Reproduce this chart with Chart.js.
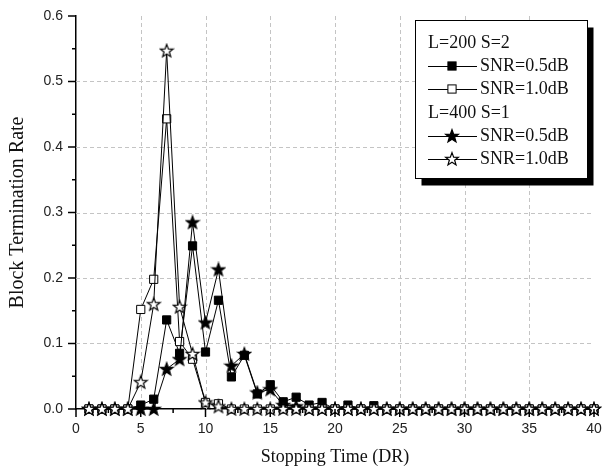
<!DOCTYPE html>
<html>
<head>
<meta charset="utf-8">
<script src="https://cdn.jsdelivr.net/npm/chart.js@4/dist/chart.umd.min.js"></script>
<style>
  html, body { margin: 0; padding: 0; background: #fff; }
  #wrap { width: 602px; height: 472px; }
</style>
</head>
<body>
<div id="wrap"><canvas id="c" width="602" height="472"></canvas></div>
<script>
// Stopping time (in decoding rounds)
const stoppingTimes = [1, 2, 3, 4, 5, 6, 7, 8, 9, 10,
  11, 12, 13, 14, 15, 16, 17, 18, 19, 20,
  21, 22, 23, 24, 25, 26, 27, 28, 29, 30,
  31, 32, 33, 34, 35, 36, 37, 38, 39, 40];

// L=200 S=2, SNR=0.5dB
const l200snr05 = [0, 0, 0, 0, 0.006, 0.015, 0.136, 0.085, 0.249, 0.087,
  0.166, 0.049, 0.082, 0.023, 0.037, 0.011, 0.018, 0.006, 0.010, 0,
  0.006, 0, 0.005, 0, 0, 0, 0, 0, 0, 0,
  0, 0, 0, 0, 0, 0, 0, 0, 0, 0];

// L=200 S=2, SNR=1.0dB
const l200snr10 = [0, 0, 0, 0, 0.152, 0.198, 0.443, 0.103, 0.076, 0.010,
  0.008, 0, 0, 0, 0, 0, 0, 0, 0, 0,
  0, 0, 0, 0, 0, 0, 0, 0, 0, 0,
  0, 0, 0, 0, 0, 0, 0, 0, 0, 0];

// L=400 S=1, SNR=0.5dB
const l400snr05 = [0, 0, 0, 0, 0, 0, 0.061, 0.076, 0.285, 0.132,
  0.213, 0.066, 0.084, 0.025, 0.030, 0.006, 0.004, 0, 0, 0,
  0, 0, 0, 0, 0, 0, 0, 0, 0, 0,
  0, 0, 0, 0, 0, 0, 0, 0, 0, 0];

// L=400 S=1, SNR=1.0dB
const l400snr10 = [0, 0, 0, 0, 0.041, 0.160, 0.547, 0.156, 0.084, 0.010,
  0.004, 0, 0, 0, 0, 0, 0, 0, 0, 0,
  0, 0, 0, 0, 0, 0, 0, 0, 0, 0,
  0, 0, 0, 0, 0, 0, 0, 0, 0, 0];

const xTickValues = [0, 5, 10, 15, 20, 25, 30, 35, 40];
const yTickValues = [0, 0.1, 0.2, 0.3, 0.4, 0.5, 0.6];

const legendGroups = ['L=200 S=2', 'L=400 S=1'];
const legendLabels = ['SNR=0.5dB', 'SNR=1.0dB', 'SNR=0.5dB', 'SNR=1.0dB'];

const toPoints = ys => stoppingTimes.map((x, i) => ({ x: x, y: ys[i] }));

// five-pointed star marker drawn onto a small canvas
function makeStar(filled) {
  const cv = document.createElement('canvas');
  cv.width = 16; cv.height = 16;
  const ctx = cv.getContext('2d');
  const cx = 8, cy = 8.4, ro = 6.8, ri = 2.8;
  ctx.beginPath();
  for (let k = 0; k < 10; k++) {
    const r = k % 2 === 0 ? ro : ri;
    const a = -Math.PI / 2 + k * Math.PI / 5;
    const px = cx + r * Math.cos(a), py = cy + r * Math.sin(a);
    if (k === 0) ctx.moveTo(px, py); else ctx.lineTo(px, py);
  }
  ctx.closePath();
  ctx.fillStyle = filled ? '#000' : '#fff';
  ctx.fill();
  ctx.lineWidth = 1.2;
  ctx.strokeStyle = '#000';
  ctx.stroke();
  return cv;
}
const filledStar = makeStar(true);
const openStar = makeStar(false);

const SQUARE_R = 5.8;

// dashed grid, tick marks and the boxed legend with drop shadow
const framePlugin = {
  id: 'frame',
  beforeDatasetsDraw(chart) {
    const { ctx, chartArea: a, scales: { x, y } } = chart;
    ctx.save();
    ctx.strokeStyle = '#c4c4c4';
    ctx.lineWidth = 1;
    ctx.setLineDash([4, 3]);
    xTickValues.forEach(v => {
      if (v === 0 || v === 40) return;
      const px = Math.round(x.getPixelForValue(v)) + 0.5;
      ctx.beginPath(); ctx.moveTo(px, a.top); ctx.lineTo(px, a.bottom); ctx.stroke();
    });
    yTickValues.forEach(v => {
      if (v === 0 || v === 0.6) return;
      const py = Math.round(y.getPixelForValue(v)) + 0.5;
      ctx.beginPath(); ctx.moveTo(a.left, py); ctx.lineTo(a.right, py); ctx.stroke();
    });
    ctx.restore();
  },
  afterDatasetsDraw(chart) {
    const { ctx, chartArea: a, scales: { x, y } } = chart;
    ctx.save();
    ctx.strokeStyle = '#000';
    ctx.lineWidth = 1.5;
    // x ticks: major outward, minor shorter
    for (let v = 0; v <= 40; v += 2.5) {
      const px = x.getPixelForValue(v);
      const major = v % 5 === 0;
      ctx.beginPath();
      ctx.moveTo(px, a.bottom);
      ctx.lineTo(px, a.bottom + (major ? 8 : 4));
      ctx.stroke();
    }
    for (let i = 0; i <= 12; i++) {
      const v = i * 0.05;
      const py = y.getPixelForValue(v);
      const major = i % 2 === 0;
      ctx.beginPath();
      ctx.moveTo(a.left, py);
      ctx.lineTo(a.left - (major ? 8 : 4), py);
      ctx.stroke();
    }
    ctx.restore();
  },
  afterDraw(chart) {
    const { ctx } = chart;
    const bx = 415.5, by = 20.5, bw = 172, bh = 158;
    ctx.save();
    ctx.fillStyle = '#000';
    ctx.fillRect(bx + 6, by + 7, bw, bh);
    ctx.fillStyle = '#fff';
    ctx.fillRect(bx, by, bw, bh);
    ctx.strokeStyle = '#000';
    ctx.lineWidth = 1;
    ctx.strokeRect(bx, by, bw, bh);

    ctx.font = '18px "Liberation Serif", "Times New Roman", serif';
    ctx.textBaseline = 'middle';
    ctx.fillStyle = '#111';
    const rowY = [43, 66, 89, 113, 136, 159];
    const textX = 428, lineX0 = 428, lineX1 = 477, markX = 452, entryX = 480;
    const ds = chart.data.datasets;
    const rows = [
      { head: legendGroups[0] },
      { ds: ds[0], label: legendLabels[0] },
      { ds: ds[1], label: legendLabels[1] },
      { head: legendGroups[1] },
      { ds: ds[2], label: legendLabels[2] },
      { ds: ds[3], label: legendLabels[3] }
    ];
    rows.forEach((r, i) => {
      const yy = rowY[i];
      if (r.head) {
        ctx.fillStyle = '#111';
        ctx.fillText(r.head, textX, yy);
        return;
      }
      ctx.strokeStyle = '#000';
      ctx.lineWidth = 1;
      ctx.beginPath();
      ctx.moveTo(lineX0, yy + 0.5); ctx.lineTo(lineX1, yy + 0.5);
      ctx.stroke();
      const style = r.ds.pointStyle;
      if (style === 'rect') {
        const s = SQUARE_R * Math.SQRT1_2;
        ctx.fillStyle = r.ds.pointBackgroundColor;
        ctx.fillRect(markX - s, yy - s, 2 * s, 2 * s);
        ctx.strokeRect(markX - s, yy - s, 2 * s, 2 * s);
      } else {
        ctx.drawImage(style, markX - style.width / 2, yy - style.height / 2);
      }
      ctx.fillStyle = '#111';
      ctx.fillText(r.label, entryX, yy);
    });
    ctx.restore();
  }
};

const common = {
  showLine: true,
  borderColor: '#000',
  borderWidth: 1,
  pointBorderColor: '#000',
  pointBorderWidth: 1,
  pointHoverRadius: 6,
  clip: false,
  tension: 0
};

new Chart(document.getElementById('c'), {
  type: 'scatter',
  data: {
    datasets: [
      Object.assign({}, common, {
        label: legendLabels[0], data: toPoints(l200snr05),
        pointStyle: 'rect', pointRadius: SQUARE_R, pointBackgroundColor: '#000', order: 3
      }),
      Object.assign({}, common, {
        label: legendLabels[1], data: toPoints(l200snr10),
        pointStyle: 'rect', pointRadius: SQUARE_R, pointBackgroundColor: '#fff', order: 2
      }),
      Object.assign({}, common, {
        label: legendLabels[2], data: toPoints(l400snr05),
        pointStyle: filledStar, pointRadius: 6, order: 1
      }),
      Object.assign({}, common, {
        label: legendLabels[3], data: toPoints(l400snr10),
        pointStyle: openStar, pointRadius: 6, order: 0
      })
    ]
  },
  options: {
    responsive: false,
    animation: false,
    devicePixelRatio: 1,
    layout: { padding: { top: 16, right: 8, left: 0, bottom: 0 } },
    plugins: { legend: { display: false }, tooltip: { enabled: false } },
    scales: {
      x: {
        type: 'linear', min: 0, max: 40,
        afterFit: s => { s.height = 63; s.paddingLeft = 0; s.paddingRight = 0; },
        afterBuildTicks: s => { s.ticks = xTickValues.map(v => ({ value: v })); },
        grid: { display: false, drawTicks: false },
        border: { display: true, color: '#000', width: 1.5 },
        ticks: {
          padding: 12, color: '#222',
          font: { family: '"Liberation Sans", Arial, sans-serif', size: 14 },
          callback: v => String(v)
        },
        title: {
          display: true, text: 'Stopping Time (DR)', color: '#111',
          font: { family: '"Liberation Serif", "Times New Roman", serif', size: 18 },
          padding: { top: 0, bottom: 4 }
        }
      },
      y: {
        type: 'linear', min: 0, max: 0.6,
        afterFit: s => { s.width = 76; s.paddingTop = 0; s.paddingBottom = 0; },
        afterBuildTicks: s => { s.ticks = yTickValues.map(v => ({ value: v })); },
        grid: { display: false, drawTicks: false },
        border: { display: true, color: '#000', width: 1.5 },
        ticks: {
          padding: 13, color: '#222',
          font: { family: '"Liberation Sans", Arial, sans-serif', size: 14 },
          callback: v => Number(v).toFixed(1)
        },
        title: {
          display: true, text: 'Block Termination Rate', color: '#111',
          font: { family: '"Liberation Serif", "Times New Roman", serif', size: 20 },
          padding: { top: 6, bottom: 0 }
        }
      }
    }
  },
  plugins: [framePlugin]
});
</script>
</body>
</html>
